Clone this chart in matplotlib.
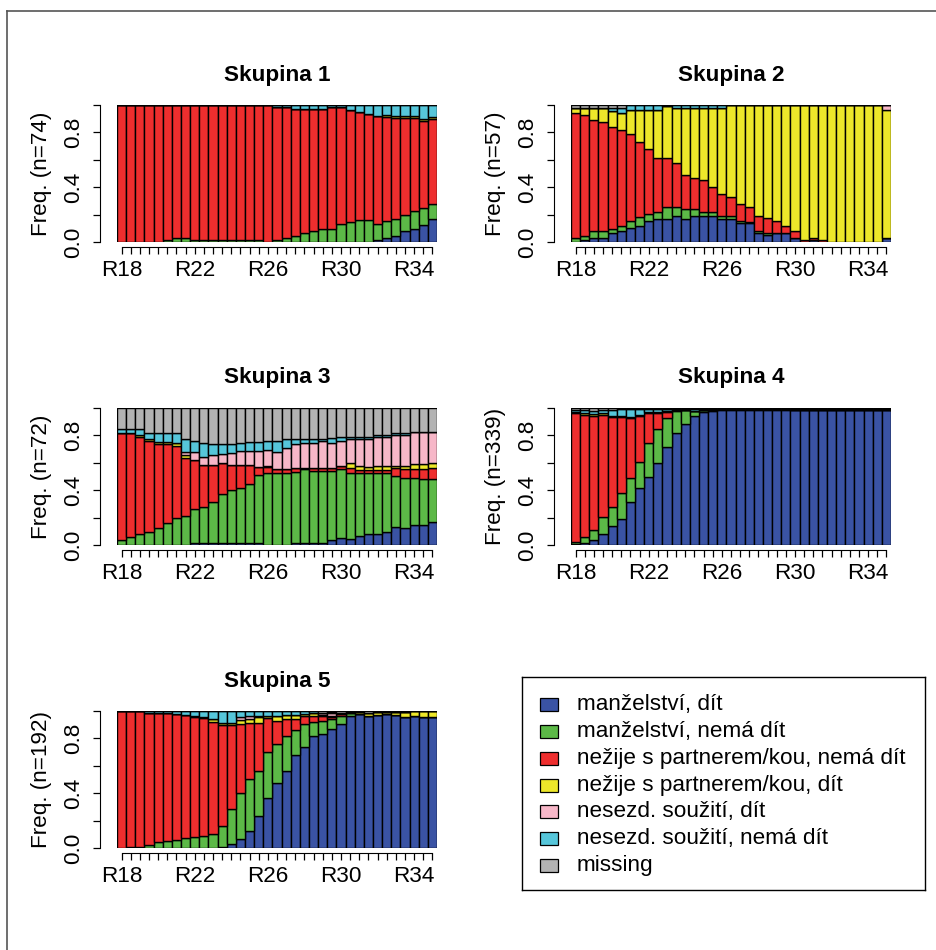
import matplotlib
matplotlib.use("Agg")
import matplotlib.pyplot as plt
import numpy as np
from matplotlib.lines import Line2D
from matplotlib.patches import Rectangle

plt.rcParams['font.family'] = ['Liberation Sans', 'DejaVu Sans']

W, H = 936, 950

ages = ["R18", "R18.5", "R19", "R19.5", "R20", "R20.5", "R21", "R21.5", "R22", "R22.5",
        "R23", "R23.5", "R24", "R24.5", "R25", "R25.5", "R26", "R26.5", "R27", "R27.5",
        "R28", "R28.5", "R29", "R29.5", "R30", "R30.5", "R31", "R31.5", "R32", "R32.5",
        "R33", "R33.5", "R34", "R34.5", "R35"]
shown_labels = ["R18", "R22", "R26", "R30", "R34"]

state_labels = ["manželství, dít", "manželství, nemá dít", "nežije s partnerem/kou, nemá dít",
                "nežije s partnerem/kou, dít", "nesezd. soužití, dít", "nesezd. soužití, nemá dít",
                "missing"]
state_colors = ["#3A53A4", "#5CB947", "#EE2E2E", "#EDE72A", "#F7B7C8", "#56C6DA", "#B3B3B3"]

group_titles = ["Skupina 1", "Skupina 2", "Skupina 3", "Skupina 4", "Skupina 5"]
group_n = [74, 57, 72, 339, 192]

# shares in percent per state (md = manzelstvi dit, mn = manzelstvi nema dit,
# nn = nezije nema dit, nd = nezije dit, sd = souziti dit, sn = souziti nema dit, na = missing)
g1_md = [0, 0, 0, 0, 0, 0, 0, 0, 0, 0, 0, 0, 0, 0, 0, 0, 0, 0, 0, 0,
         0, 0, 0, 0, 0, 0, 0, 0, 1.4, 2.7, 4.1, 8.1, 9.5, 12.2, 16.8]
g1_mn = [0, 0, 0, 0, 0, 1.4, 2.7, 2.7, 1.4, 1.4, 1.4, 1.4, 1.4, 1.4, 1.4, 1.4, 0, 1.4, 2.7, 4.1,
         6.8, 8.1, 9.5, 9.5, 13.5, 14.9, 16.2, 16.2, 11.7, 12.9, 12.7, 11.6, 13.1, 12.9, 10.9]
g1_nn = [100, 100, 100, 100, 100, 98.6, 97.3, 97.3, 98.6, 98.6, 98.6, 98.6, 98.6, 98.6, 98.6, 98.6,
         100, 97.2, 95.9, 93.2, 90.5, 89.2, 87.8, 89.2, 85.2, 81.1, 78.4, 77.0, 79.1, 75.4, 74.0,
         71.1, 68.2, 63.2, 62.1]
g1_nd = [0, 0, 0, 0, 0, 0, 0, 0, 0, 0, 0, 0, 0, 0, 0, 0, 0, 0, 0, 0,
         0, 0, 0, 0, 0, 0, 0, 0, 0, 1.4, 1.4, 1.4, 1.4, 1.4, 1.4]
g1_sd = [0, 0, 0, 0, 0, 0, 0, 0, 0, 0, 0, 0, 0, 0, 0, 0, 0, 0, 0, 0,
         0, 0, 0, 0, 0, 0, 0, 0, 0, 0, 0, 0, 0, 0, 0]
g1_sn = [0, 0, 0, 0, 0, 0, 0, 0, 0, 0, 0, 0, 0, 0, 0, 0, 0, 1.4, 1.4, 2.7,
         2.7, 2.7, 2.7, 1.3, 1.3, 4.0, 5.4, 6.8, 7.8, 7.6, 7.8, 7.8, 7.8, 10.3, 8.8]
g1_na = [0, 0, 0, 0, 0, 0, 0, 0, 0, 0, 0, 0, 0, 0, 0, 0, 0, 0, 0, 0,
         0, 0, 0, 0, 0, 0, 0, 0, 0, 0, 0, 0, 0, 0, 0]

g2_md = [0, 1.2, 2.7, 2.7, 6.3, 8.0, 10.0, 11.7, 15.3, 16.8, 16.8, 18.7, 16.8, 18.7, 18.7, 18.7,
         16.8, 16.8, 14.0, 13.6, 6.8, 5.1, 6.8, 6.8, 3.2, 0, 1.2, 0, 0, 0, 0, 0, 0, 0, 2.7]
g2_mn = [2.7, 3.4, 5.3, 5.3, 3.4, 3.7, 5.3, 6.8, 5.1, 5.3, 8.7, 6.8, 7.3, 5.4, 3.4, 3.4,
         1.9, 1.9, 1.3, 1.2, 1.2, 1.2, 0, 0, 0, 0, 0, 0, 0, 0, 0, 0, 0, 0, 0]
g2_nn = [91.2, 88.1, 81.1, 79.3, 74.0, 70.3, 63.3, 54.7, 47.5, 39.0, 35.6, 32.2, 24.8, 22.9, 23.2,
         17.8, 16.1, 14.4, 12.4, 11.0, 11.0, 11.0, 8.5, 5.1, 4.8, 1.5, 1.5, 1.5, 0, 0, 0, 0, 0, 0, 0]
g2_nd = [3.7, 4.9, 8.5, 10.3, 12.2, 11.9, 17.8, 23.2, 28.5, 35.3, 38.2, 40.4, 49.2, 51.1, 52.8,
         58.2, 63.3, 66.9, 72.3, 74.2, 81.0, 82.7, 84.7, 88.1, 92.0, 98.5, 97.3, 98.5, 100, 100,
         100, 100, 100, 100, 93.7]
g2_sd = [0, 0, 0, 0, 0, 0, 0, 0, 0, 0, 0, 0, 0, 0, 0, 0, 0, 0, 0, 0,
         0, 0, 0, 0, 0, 0, 0, 0, 0, 0, 0, 0, 0, 0, 3.6]
g2_sn = [0, 0, 0, 0, 1.7, 3.7, 3.6, 3.6, 3.6, 3.6, 0.7, 1.9, 1.9, 1.9, 1.9, 1.9,
         1.9, 0, 0, 0, 0, 0, 0, 0, 0, 0, 0, 0, 0, 0, 0, 0, 0, 0, 0]
g2_na = [2.4, 2.4, 2.4, 2.4, 2.4, 2.4, 0, 0, 0, 0, 0, 0, 0, 0, 0, 0, 0, 0, 0, 0,
         0, 0, 0, 0, 0, 0, 0, 0, 0, 0, 0, 0, 0, 0, 0]

g3_md = [0, 0, 0, 0, 0, 0, 0, 0, 1.2, 1.2, 1.2, 1.2, 1.2, 1.2, 1.2, 1.2, 0, 0, 0, 1.2,
         1.2, 1.2, 1.2, 3.6, 5.4, 4.1, 6.6, 8.0, 8.0, 9.5, 13.4, 12.2, 14.6, 14.6, 17.0]
g3_mn = [3.6, 5.6, 7.8, 9.2, 12.4, 16.3, 19.5, 21.4, 24.8, 26.3, 30.4, 35.8, 38.9, 40.4, 43.1,
         49.7, 52.3, 52.3, 52.3, 52.3, 54.0, 52.8, 52.8, 50.4, 49.8, 48.2, 45.7, 44.3, 44.3, 42.8,
         37.2, 36.9, 34.5, 33.3, 30.9]
g3_nn = [77.9, 75.9, 71.3, 67.0, 61.1, 57.2, 52.8, 42.3, 36.0, 30.9, 26.8, 22.6, 18.3, 16.8, 14.1,
         6.3, 4.4, 2.9, 2.9, 2.9, 1.2, 2.4, 2.4, 2.4, 2.7, 4.1, 2.4, 2.4, 2.4, 2.4, 5.8, 6.1, 6.1,
         7.3, 8.5]
g3_nd = [0, 0, 1.2, 1.2, 1.9, 1.9, 1.9, 2.0, 0, 0, 0, 0, 0, 0, 0, 0, 1.0, 0, 0, 0,
         0, 0, 0, 0, 0, 3.2, 3.2, 2.0, 3.2, 3.2, 1.5, 2.7, 3.9, 3.9, 3.2]
g3_sd = [0, 0, 0, 0, 0, 0, 0, 1.9, 5.6, 6.1, 7.3, 6.8, 8.5, 10.2, 10.2, 11.4, 11.6, 12.4, 15.4,
         17.1, 18.3, 18.3, 19.5, 18.3, 18.3, 17.8, 19.5, 20.7, 20.7, 20.7, 22.4, 22.4, 23.6, 23.6, 23.1]
g3_sn = [2.9, 2.9, 4.1, 4.1, 6.1, 6.1, 7.3, 9.8, 8.6, 10.2, 7.8, 7.1, 6.6, 5.6, 6.3, 6.3, 6.9,
         8.6, 6.8, 3.9, 2.7, 2.7, 1.5, 3.2, 2.9, 1.7, 1.7, 1.7, 1.7, 1.7, 1.2, 1.2, 0, 0, 0]
g3_na = [15.6, 15.6, 15.6, 18.5, 18.5, 18.5, 18.5, 22.6, 23.8, 25.3, 26.5, 26.5, 26.5, 25.8, 25.1,
         25.1, 23.8, 23.8, 22.6, 22.6, 22.6, 22.6, 22.6, 22.1, 20.9, 20.9, 20.9, 20.9, 19.7, 19.7,
         18.5, 18.5, 17.3, 17.3, 17.3]

g4_md = [0.7, 1.7, 3.6, 7.8, 13.9, 19.0, 31.6, 41.8, 49.4, 59.6, 71.8, 81.5, 88.3, 94.2, 96.8, 98.1,
         98.8, 98.8, 98.8, 98.8, 98.8, 98.8, 98.8, 98.8, 98.3, 98.3, 98.3, 98.3, 98.3, 98.3, 98.3,
         98.3, 98.3, 98.3, 98.3]
g4_mn = [1.2, 4.4, 7.3, 12.9, 13.6, 19.2, 17.5, 18.5, 24.8, 24.8, 20.7, 16.6, 10.2, 3.6, 1.5, 0.6,
         0.3, 0.3, 0.3, 0.3, 0.3, 0.3, 0.3, 0.3, 0.3, 0.3, 0.3, 0.3, 0.3, 0.3, 0.3, 0.3, 0.3, 0.3, 0.3]
g4_nn = [94.2, 88.8, 83.3, 74.2, 65.7, 55.0, 43.4, 33.9, 21.9, 11.7, 4.8, 0.5, 0, 0.3, 0, 0,
         0, 0, 0, 0, 0, 0, 0, 0, 0, 0, 0, 0, 0, 0, 0, 0, 0, 0, 0]
g4_nd = [1.2, 1.7, 1.4, 1.2, 1.2, 1.2, 0.7, 1.0, 0.7, 1.2, 0.5, 0, 0, 0, 0, 0,
         0.2, 0.2, 0.2, 0.2, 0.2, 0.2, 0.2, 0.2, 0.4, 0.4, 0.4, 0.4, 0.4, 0.4, 0.4, 0.4, 0.4, 0.4, 0.4]
g4_sd = [0, 0, 0, 0, 0, 0, 0, 0, 0, 0, 0, 0, 0, 0, 0, 0, 0, 0, 0, 0,
         0, 0, 0, 0, 0, 0, 0, 0, 0, 0, 0, 0, 0, 0, 0]
g4_sn = [1.5, 1.7, 2.5, 2.4, 3.9, 4.9, 6.1, 4.1, 2.5, 2.0, 1.5, 0.7, 0.8, 1.2, 1.0, 0.6,
         0.2, 0.2, 0.2, 0.2, 0.2, 0.2, 0.2, 0.2, 0.4, 0.4, 0.4, 0.4, 0.4, 0.4, 0.4, 0.4, 0.4, 0.4, 0.4]
g4_na = [1.2, 1.7, 1.9, 1.5, 1.7, 0.7, 0.7, 0.7, 0.7, 0.7, 0.7, 0.7, 0.7, 0.7, 0.7, 0.7,
         0.5, 0.5, 0.5, 0.5, 0.5, 0.5, 0.5, 0.5, 0.6, 0.6, 0.6, 0.6, 0.6, 0.6, 0.6, 0.6, 0.6, 0.6, 0.6]

g5_md = [0, 0, 0, 0, 0, 0, 0, 0, 0, 0, 0, 1.0, 2.9, 6.8, 12.7, 23.6, 36.3, 47.2, 56.2, 67.9,
         73.5, 81.8, 83.0, 86.6, 90.3, 96.4, 97.6, 96.6, 97.1, 97.8, 97.1, 95.9, 96.4, 95.9, 95.4]
g5_mn = [0, 1.0, 0.5, 1.9, 4.1, 5.4, 5.8, 7.1, 8.0, 8.5, 10.5, 15.1, 25.8, 33.1, 37.4, 32.6, 33.5,
         28.5, 25.6, 18.2, 16.8, 9.9, 9.9, 7.6, 6.3, 1.9, 0, 0, 0, 0, 0, 0, 0, 0, 0]
g5_nn = [100, 99.0, 99.5, 96.9, 94.2, 92.9, 92.0, 90.2, 87.4, 86.1, 81.5, 73.7, 61.1, 50.4, 41.4,
         35.3, 24.8, 17.2, 12.4, 8.1, 6.1, 4.9, 3.5, 1.7, 1.2, 0, 0, 0, 0, 0, 0, 0, 0, 0, 0]
g5_nd = [0, 0, 0, 0, 0, 0, 0, 0, 1.0, 1.2, 2.2, 1.7, 1.7, 3.1, 2.7, 3.9, 2.0, 3.5, 2.9, 2.9,
         1.4, 1.7, 1.0, 0.7, 1.0, 0.7, 1.9, 1.7, 1.9, 1.7, 2.4, 3.6, 3.6, 4.1, 4.6]
g5_sd = [0, 0, 0, 0, 0, 0, 0, 0, 0, 0, 0, 0, 0, 1.9, 2.2, 1.2, 0, 0, 0, 0,
         0, 0, 1.0, 1.9, 0, 0, 0, 0, 0, 0, 0, 0, 0, 0, 0]
g5_sn = [0, 0, 0, 1.2, 1.7, 1.7, 2.2, 2.7, 3.6, 4.2, 5.8, 8.5, 8.5, 4.7, 3.6, 3.4, 3.4, 3.6, 2.9,
         2.9, 2.2, 1.7, 0, 0.5, 0, 0, 0, 0, 0, 0, 0, 0, 0, 0, 0]
g5_na = [0, 0, 0, 0, 0, 0, 0, 0, 0, 0, 0, 0, 0, 0, 0, 0, 0, 0, 0, 0,
         0, 0, 1.6, 1.0, 1.2, 1.0, 0.5, 1.7, 1.0, 0.5, 0.5, 0.5, 0, 0, 0]

groups = [
    [g1_md, g1_mn, g1_nn, g1_nd, g1_sd, g1_sn, g1_na],
    [g2_md, g2_mn, g2_nn, g2_nd, g2_sd, g2_sn, g2_na],
    [g3_md, g3_mn, g3_nn, g3_nd, g3_sd, g3_sn, g3_na],
    [g4_md, g4_mn, g4_nn, g4_nd, g4_sd, g4_sn, g4_na],
    [g5_md, g5_mn, g5_nn, g5_nd, g5_sd, g5_sn, g5_na],
]

# panel boxes in pixels: left, top
panel_pos = [(117, 105), (571, 105), (117, 408), (571, 408), (117, 711)]
pw, ph = 320, 137
fs = 16.2

fig = plt.figure(figsize=(W / 100, H / 100), dpi=100)

# outer frame (partly cut off in the reference)
fig.add_artist(Line2D([7 / W, 7 / W], [0, 1 - 11 / H], color='#555555', lw=1.2))
fig.add_artist(Line2D([7 / W, 1], [1 - 11 / H, 1 - 11 / H], color='#555555', lw=1.2))

x = np.arange(len(ages))
for k, (left, top) in enumerate(panel_pos):
    ax = fig.add_axes([left / W, 1 - (top + ph) / H, pw / W, ph / H])
    bottom = np.zeros(len(ages))
    for vals, col in zip(groups[k], state_colors):
        v = np.array(vals) / 100
        ax.bar(x, v, bottom=bottom, width=1.0, color=col, edgecolor='black', linewidth=1.0)
        bottom += v
    ax.set_xlim(-0.5, len(ages) - 0.5)
    ax.set_ylim(0, 1)
    for s in ['top', 'right']:
        ax.spines[s].set_visible(False)
    ax.spines['left'].set_position(('outward', 12))
    ax.spines['bottom'].set_position(('outward', 3.5))
    ax.spines['bottom'].set_bounds(0, len(ages) - 1)
    ax.set_xticks(x)
    ax.set_xticklabels([a if a in shown_labels else '' for a in ages])
    ax.set_yticks([0, 0.2, 0.4, 0.6, 0.8, 1.0])
    ax.set_yticklabels(["0.0", "", "0.4", "", "0.8", ""], rotation=90, va='center')
    ax.tick_params(axis='x', direction='out', length=5, width=0.9, pad=4.5, labelsize=fs)
    ax.tick_params(axis='y', direction='out', length=5, width=0.9, pad=6.5, labelsize=fs)
    ax.text(0.5, 1 + 30 / ph, group_titles[k], transform=ax.transAxes, ha='center',
            va='center', fontsize=fs, fontweight='bold')
    ax.text(-75 / pw, 0.5, f"Freq. (n={group_n[k]})", transform=ax.transAxes, rotation=90,
            ha='center', va='center', fontsize=fs)

# legend box
lx0, ly0, lx1, ly1 = 522, 677, 925, 890
lax = fig.add_axes([lx0 / W, 1 - ly1 / H, (lx1 - lx0) / W, (ly1 - ly0) / H])
lax.set_xlim(lx0, lx1)
lax.set_ylim(ly1, ly0)
lax.set_xticks([])
lax.set_yticks([])
for s in lax.spines.values():
    s.set_linewidth(1.0)
row_y = [705, 731.7, 758.3, 785, 811.7, 838.3, 865]
for lab, col, ry in zip(state_labels, state_colors, row_y):
    lax.add_patch(Rectangle((540, ry - 6.5), 18, 13, facecolor=col, edgecolor='black', lw=0.9))
    lax.text(577, ry, lab, ha='left', va='center', fontsize=fs)

fig.savefig("out.png", dpi=100)
